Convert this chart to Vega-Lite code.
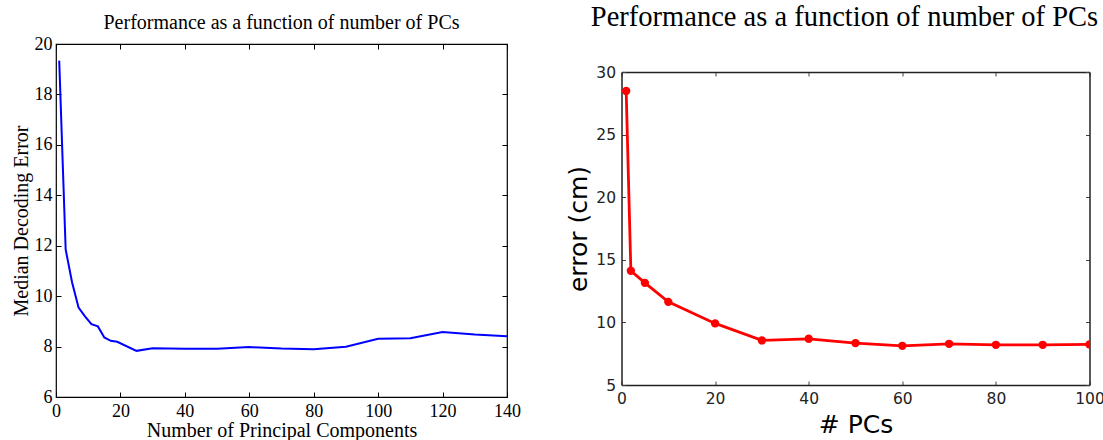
{
  "$schema": "https://vega.github.io/schema/vega-lite/v6.json",
  "background": "white",
  "padding": {"left": 10, "top": 3, "right": 0, "bottom": 0},
  "spacing": 44.5,
  "datasets": {
    "left": [
      {"pcs": 1, "err": 19.34},
      {"pcs": 3, "err": 11.85},
      {"pcs": 5, "err": 10.54},
      {"pcs": 7, "err": 9.55},
      {"pcs": 9, "err": 9.2},
      {"pcs": 11, "err": 8.89},
      {"pcs": 13, "err": 8.8},
      {"pcs": 15, "err": 8.36},
      {"pcs": 17, "err": 8.23},
      {"pcs": 19, "err": 8.19},
      {"pcs": 25, "err": 7.83},
      {"pcs": 30, "err": 7.93},
      {"pcs": 40, "err": 7.91},
      {"pcs": 50, "err": 7.91},
      {"pcs": 60, "err": 7.98},
      {"pcs": 70, "err": 7.92},
      {"pcs": 80, "err": 7.89},
      {"pcs": 90, "err": 7.99},
      {"pcs": 100, "err": 8.31},
      {"pcs": 110, "err": 8.33},
      {"pcs": 120, "err": 8.58},
      {"pcs": 130, "err": 8.48},
      {"pcs": 140, "err": 8.41}
    ],
    "right": [
      {"pcs": 1, "err": 28.48},
      {"pcs": 2, "err": 14.12},
      {"pcs": 5, "err": 13.16},
      {"pcs": 10, "err": 11.64},
      {"pcs": 20, "err": 9.92},
      {"pcs": 30, "err": 8.56},
      {"pcs": 40, "err": 8.69},
      {"pcs": 50, "err": 8.35},
      {"pcs": 60, "err": 8.13},
      {"pcs": 70, "err": 8.29},
      {"pcs": 80, "err": 8.21},
      {"pcs": 90, "err": 8.21},
      {"pcs": 100, "err": 8.24}
    ]
  },
  "config": {
    "axis": {"grid": false, "domain": false, "labelFlush": false, "labelOverlap": false}
  },
  "hconcat": [
    {
      "width": 451,
      "height": 353,
      "view": {"stroke": "black", "strokeWidth": 1.2},
      "title": {"text": "Performance as a function of number of PCs", "font": "Liberation Serif", "fontSize": 20, "fontWeight": "normal", "color": "black", "offset": 2, "anchor": "middle", "frame": "group"},
      "data": {"name": "left"},
      "layer": [
        {
          "mark": {"type": "line", "color": "#0000ff", "strokeWidth": 2},
          "encoding": {
            "x": {"field": "pcs", "type": "quantitative", "scale": {"domain": [0, 140], "nice": false, "zero": false},
              "axis": {"orient": "bottom", "values": [0, 20, 40, 60, 80, 100, 120, 140], "title": "Number of Principal Components", "titleFont": "Liberation Serif", "titleFontSize": 20, "titleFontWeight": "normal", "titleColor": "black", "titlePadding": 0, "labelFont": "Liberation Serif", "labelFontSize": 18, "labelColor": "black", "tickSize": -5, "tickColor": "black", "labelPadding": 10}},
            "y": {"field": "err", "type": "quantitative", "scale": {"domain": [6, 20], "nice": false, "zero": false},
              "axis": {"orient": "left", "values": [6, 8, 10, 12, 14, 16, 18, 20], "title": "Median Decoding Error", "titleFont": "Liberation Serif", "titleFontSize": 20, "titleFontWeight": "normal", "titleColor": "black", "titlePadding": 3, "labelFont": "Liberation Serif", "labelFontSize": 18, "labelColor": "black", "tickSize": -5, "tickColor": "black", "labelPadding": 9}}
          }
        },
        {
          "mark": {"type": "line", "strokeOpacity": 0},
          "encoding": {
            "x": {"field": "pcs", "type": "quantitative", "axis": {"orient": "top", "values": [0, 20, 40, 60, 80, 100, 120, 140], "labels": false, "title": null, "tickSize": -5, "tickColor": "black"}},
            "y": {"field": "err", "type": "quantitative", "axis": {"orient": "right", "values": [6, 8, 10, 12, 14, 16, 18, 20], "labels": false, "title": null, "tickSize": -5, "tickColor": "black"}}
          }
        }
      ],
      "resolve": {"axis": {"x": "independent", "y": "independent"}}
    },
    {
      "width": 468,
      "height": 341,
      "view": {"stroke": null},
      "title": {"text": "Performance as a function of number of PCs", "font": "Liberation Serif", "fontSize": 28.5, "fontWeight": "normal", "color": "black", "offset": 12.5, "anchor": "middle", "frame": "group", "dx": -11},
      "data": {"name": "right"},
      "layer": [
        {
          "mark": {"type": "line", "color": "#ff0000", "strokeWidth": 2.8, "clip": true, "point": {"filled": true, "size": 70, "color": "#ff0000"}},
          "encoding": {
            "x": {"field": "pcs", "type": "quantitative", "scale": {"domain": [0, 100], "nice": false, "zero": false},
              "axis": {"orient": "bottom", "values": [0, 20, 40, 60, 80, 100], "title": "# PCs", "titleFont": "DejaVu Sans", "titleFontSize": 25, "titleFontWeight": "normal", "titleColor": "black", "titlePadding": 6, "labelFont": "DejaVu Sans", "labelFontSize": 15.5, "labelColor": "#222222", "tickSize": -4, "tickColor": "#444444", "labelPadding": 10, "domain": true, "domainColor": "#222222", "domainWidth": 1.5}},
            "y": {"field": "err", "type": "quantitative", "scale": {"domain": [5, 30], "nice": false, "zero": false, "range": [341, 28]},
              "axis": {"orient": "left", "values": [5, 10, 15, 20, 25, 30], "title": "error (cm)", "titleFont": "DejaVu Sans", "titleFontSize": 25, "titleFontWeight": "normal", "titleColor": "black", "titlePadding": 4, "labelFont": "DejaVu Sans", "labelFontSize": 15.5, "labelColor": "#222222", "tickSize": -4, "tickColor": "#444444", "labelPadding": 10, "domain": true, "domainColor": "#222222", "domainWidth": 1.5}}
          }
        },
        {
          "mark": {"type": "line", "strokeOpacity": 0},
          "encoding": {
            "x": {"field": "pcs", "type": "quantitative", "axis": {"orient": "top", "offset": -28, "values": [0, 20, 40, 60, 80, 100], "labels": false, "title": null, "tickSize": -4, "tickColor": "#444444", "domain": true, "domainColor": "#222222", "domainWidth": 1.5}},
            "y": {"field": "err", "type": "quantitative", "axis": {"orient": "right", "values": [5, 10, 15, 20, 25, 30], "labels": false, "title": null, "tickSize": -4, "tickColor": "#444444", "domain": true, "domainColor": "#222222", "domainWidth": 1.5}}
          }
        }
      ],
      "resolve": {"axis": {"x": "independent", "y": "independent"}}
    }
  ]
}
